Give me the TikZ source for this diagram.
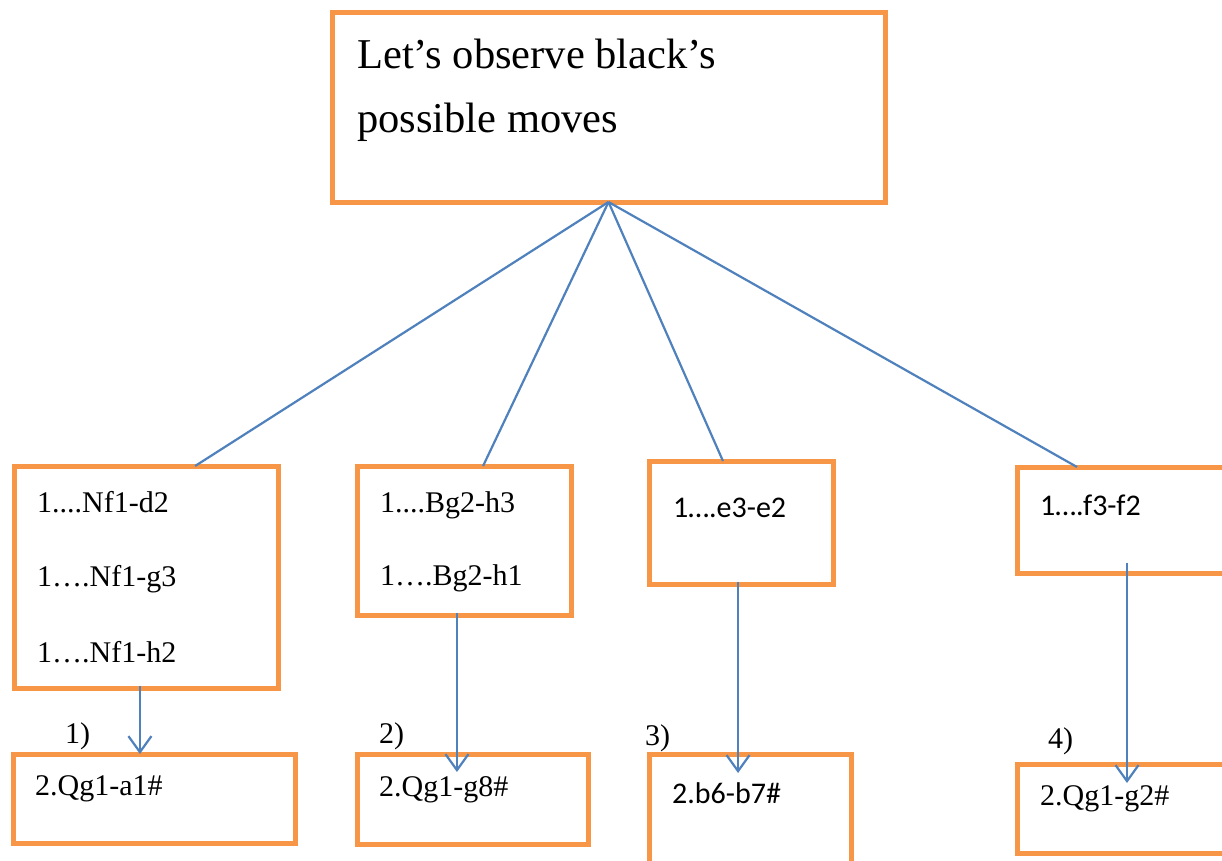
\documentclass[tikz,border=0pt]{standalone}
\usepackage{fontspec}
\setmainfont{Liberation Serif}
\newfontfamily\calib{Carlito}
\usetikzlibrary{arrows.meta,calc}
\definecolor{boxorange}{HTML}{F79646}
\definecolor{linkblue}{HTML}{4F81BD}
\tikzset{
  movebox/.style={draw=boxorange,line width=5pt,rectangle,inner sep=0pt,outer sep=0pt,anchor=north west},
  txt/.style={anchor=base west,inner sep=0pt,font=\fontsize{30}{36}\selectfont},
  stxt/.style={anchor=base west,inner sep=0pt,font=\calib\fontsize{30}{36}\selectfont},
  bigtxt/.style={anchor=base west,inner sep=0pt,font=\fontsize{42.5}{50}\selectfont},
  link/.style={draw=linkblue,line width=2.2pt},
  arr/.style={draw=linkblue,line width=2.2pt,-{Straight Barb[length=16pt,width=23pt,line width=2.2pt]}}
}
\begin{document}
\begin{tikzpicture}[x=1pt,y=-1pt]
\useasboundingbox (0,0) rectangle (1222,860);
\clip (0,0) rectangle (1222,860);
\fill[white] (0,0) rectangle (1222,860);

% question box
\node[movebox,minimum width=553pt,minimum height=190pt] (top) at (332,12) {};
\node[bigtxt] (q1) at (357,68) {Let’s observe black’s};
\node[bigtxt] (q2) at (357,132) {possible moves};

% black's replies
\node[movebox,minimum width=264pt,minimum height=222pt] (b1) at (14,466) {};
\node[movebox,minimum width=214pt,minimum height=149pt] (b2) at (357,466) {};
\node[movebox,minimum width=184pt,minimum height=123pt] (b3) at (649,461) {};
\node[movebox,minimum width=223pt,minimum height=106pt] (b4) at (1017,467) {};

\node[txt] (m11) at (37,512) {1....Nf1-d2};
\node[txt] (m12) at (37,586) {1….Nf1-g3};
\node[txt] (m13) at (37,662) {1….Nf1-h2};
\node[txt] (m21) at (380,512) {1....Bg2-h3};
\node[txt] (m22) at (380,585) {1….Bg2-h1};
\node[stxt] (m31) at (673,517) {1….e3-e2};
\node[stxt] (m41) at (1040,515) {1….f3-f2};

% white's mating answers
\node[movebox,minimum width=282pt,minimum height=89pt] (r1) at (13,754) {};
\node[movebox,minimum width=231pt,minimum height=90pt] (r2) at (357,754) {};
\node[movebox,minimum width=202pt,minimum height=130pt] (r3) at (649,754) {};
\node[movebox,minimum width=223pt,minimum height=89pt] (r4) at (1017,764) {};

\node[txt] (w1) at (35,795) {2.Qg1-a1\#};
\node[txt] (w2) at (379,796) {2.Qg1-g8\#};
\node[stxt] (w3) at (672,803) {2.b6-b7\#};
\node[txt] (w4) at (1040,805) {2.Qg1-g2\#};

\node[txt] (n1) at (65,743) {1)};
\node[txt] (n2) at (379,743) {2)};
\node[txt] (n3) at (645,745) {3)};
\node[txt] (n4) at (1048,748) {4)};

% branches from the question box
\draw[link] (top.south) -- ($(b1.north west)!0.686!(b1.north east)$);
\draw[link] (top.south) -- ($(b2.north west)!0.589!(b2.north east)$);
\draw[link] (top.south) -- ($(b3.north west)!0.402!(b3.north east)$);
\draw[link] (top.south) -- ($(b4.north west)!0.269!(b4.north east)$);

% arrows down to the answers
\coordinate (s1) at ($(b1.south west)!0.477!(b1.south east)$);
\coordinate (s2) at ($(b2.south west)!0.467!(b2.south east)$);
\coordinate (s3) at ($(b3.south west)!0.484!(b3.south east)$);
\coordinate (s4) at (1127,563);
\coordinate (t2) at (s2 |- 0,772);
\coordinate (t3) at (s3 |- 0,773);
\coordinate (t4) at (s4 |- 0,783);
\draw[arr] ([yshift=2.5pt]s1) -- (s1 |- r1.north);
\draw[arr] ([yshift=2.5pt]s2) -- (t2);
\draw[arr] ([yshift=2.5pt]s3) -- (t3);
\draw[arr] (s4) -- (t4);
\end{tikzpicture}
\end{document}
